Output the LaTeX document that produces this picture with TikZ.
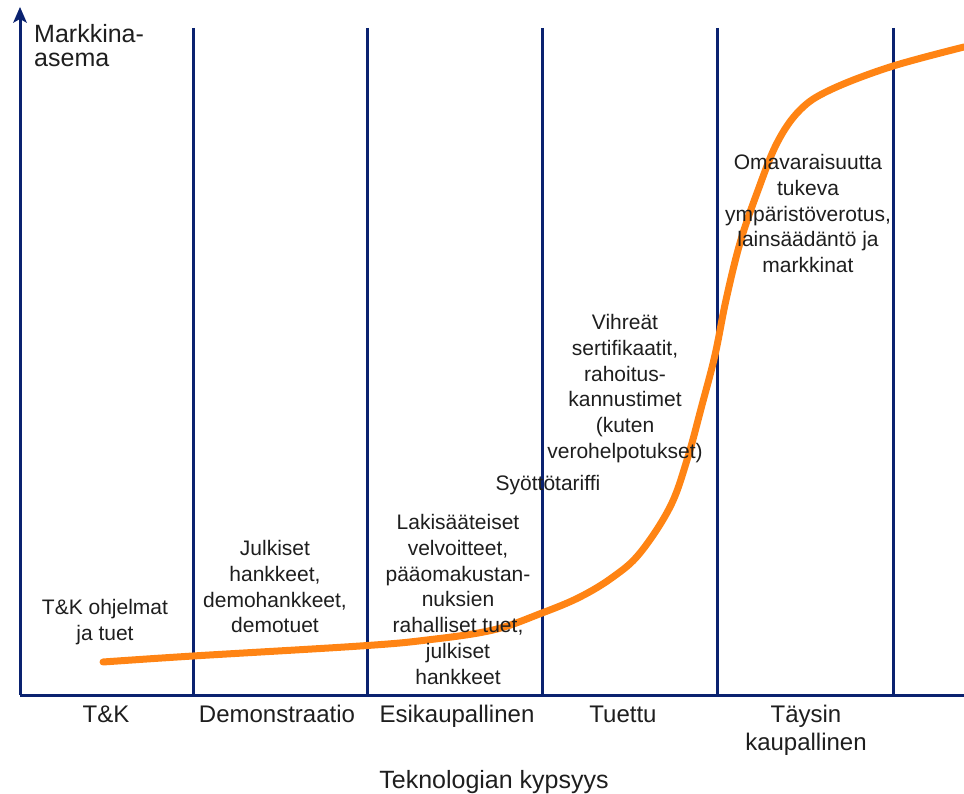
\documentclass[tikz,border=0pt]{standalone}
\usepackage{fontspec}
\setmainfont{Liberation Sans}
\definecolor{navy}{RGB}{10,34,112}
\definecolor{curveorange}{RGB}{255,132,20}
\definecolor{txt}{RGB}{30,30,30}
\begin{document}
\begin{tikzpicture}[x=1pt,y=-1pt,
  grid/.style={draw=navy,line width=3pt},
  lbl/.style={inner sep=0pt,align=center,text=txt,font=\fontsize{21}{25.8}\selectfont},
  cat/.style={inner sep=0pt,align=center,text=txt,font=\fontsize{24}{28}\selectfont,anchor=base},
  axl/.style={inner sep=0pt,text=txt,font=\fontsize{25}{24}\selectfont}]
\useasboundingbox (0,0) rectangle (964,794);
% axes
\coordinate (o) at (20,695);
\coordinate (ytip) at (20,7);
\coordinate (yneck) at (20,19);
\coordinate (xend) at (964,695);
\draw[grid] (o) -- (xend);
\draw[grid] (o) -- (yneck);
\fill[navy] (ytip) -- (13,23) -- (yneck) -- (27,23) -- cycle;
% vertical separators
\foreach \n/\x in {a/193,b/367,c/542,d/717,e/893}{
  \coordinate (\n t) at (\x,28);
  \coordinate (\n b) at (\x,695);
  \draw[grid] (\n t) -- (\n b);
}
% curve
\draw[curveorange,line width=7pt,line cap=round] plot[smooth,tension=0.6] coordinates {
 (103,662) (193,656) (360,646) (427,640) (493,630) (542,613) (580,597)
 (613,577) (640,553) (670,507) (687,460) (702,405) (715,355) (726,300)
 (740,243) (757,193) (777,143) (800,110) (830,90) (890,67) (964,47)};
% texts
\node[axl,anchor=north west,align=left] (yl) at (34,24) {Markkina-\\asema};
\node[lbl,anchor=north] (t1) at (105,599) {T\&K ohjelmat\\ja tuet};
\node[lbl,anchor=north] (t2) at (275,540) {Julkiset\\hankkeet,\\demohankkeet,\\demotuet};
\node[lbl,anchor=north] (t3) at (458,514) {Lakisääteiset\\velvoitteet,\\pääomakustan-\\nuksien\\rahalliset tuet,\\julkiset\\hankkeet};
\node[lbl,anchor=base] (t4) at (548,490) {Syöttötariffi};
\node[lbl,anchor=north] (t5) at (625,314) {Vihreät\\sertifikaatit,\\rahoitus-\\kannustimet\\(kuten\\verohelpotukset)};
\node[lbl,anchor=north] (t6) at (808,154) {Omavaraisuutta\\tukeva\\ympäristöverotus,\\lainsäädäntö ja\\markkinat};
% categories
\node[cat] (c1) at (106,722) {T\&K};
\node[cat] (c2) at (277,722) {Demonstraatio};
\node[cat] (c3) at (457,722) {Esikaupallinen};
\node[cat] (c4) at (623,722) {Tuettu};
\node[cat,anchor=north] (c5) at (806,705) {Täysin\\kaupallinen};
\node[axl,anchor=base] (xl) at (494,788) {Teknologian kypsyys};
\end{tikzpicture}
\end{document}
